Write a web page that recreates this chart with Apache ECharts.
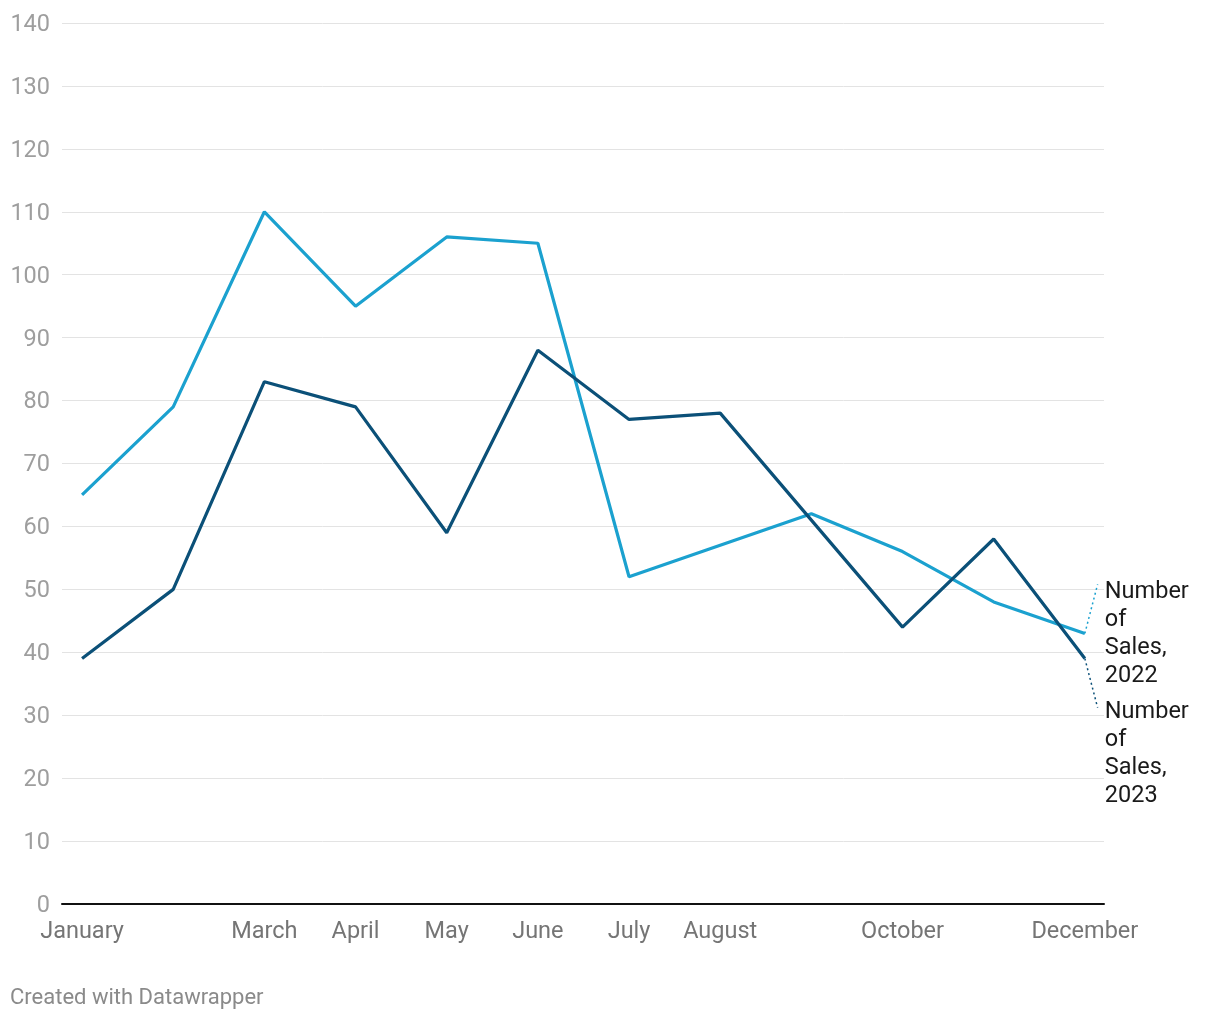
<!DOCTYPE html>
<html>
<head>
<meta charset="utf-8">
<script src="https://cdn.jsdelivr.net/npm/echarts@6/dist/echarts.min.js"></script>
<style>
  html, body { margin: 0; padding: 0; background: #fff; }
  #chart { width: 1220px; height: 1020px; }
</style>
</head>
<body>
<div id="chart"></div>
<script>
const months = ['January','February','March','April','May','June','July','August','September','October','November','December'];
const shownMonths = ['January','March','April','May','June','July','August','October','December'];
const sales2022 = [65, 79, 110, 95, 106, 105, 52, 57, 62, 56, 48, 43];
const sales2023 = [39, 50, 83, 79, 59, 88, 77, 78, 61, 44, 58, 39];
const yTicks = [0, 10, 20, 30, 40, 50, 60, 70, 80, 90, 100, 110, 120, 130, 140];
const label2022 = 'Number\nof\nSales,\n2022';
const label2023 = 'Number\nof\nSales,\n2023';

const LIGHT = '#1ba1cf';
const DARK = '#0b5078';
const FONT = 'Roboto';
const FS = 23.5;

const toPairs = arr => arr.map((v, i) => [i, v]);
const last = months.length - 1;

const chart = echarts.init(document.getElementById('chart'), null, { renderer: 'canvas' });

function connector(endVal, labelVal, color) {
  return {
    silent: true,
    symbol: ['none', 'none'],
    animation: false,
    label: { show: false },
    lineStyle: { type: [2, 3], width: 1.5, color: color },
    data: [[{ coord: [last, endVal] }, { coord: [last + 0.14, labelVal] }]]
  };
}

chart.setOption({
  animation: false,
  backgroundColor: '#ffffff',
  grid: { left: 62, right: 116, top: 23, bottom: 116, containLabel: false },
  xAxis: {
    type: 'value',
    min: -0.22,
    max: 11.21,
    axisLine: { show: true, onZero: false, lineStyle: { color: '#111', width: 2 } },
    axisTick: { show: false },
    splitLine: { show: false },
    axisLabel: {
      customValues: shownMonths.map(m => months.indexOf(m)),
      formatter: v => months[Math.round(v)] || '',
      color: '#757575',
      fontFamily: FONT,
      fontSize: FS,
      margin: 16
    }
  },
  yAxis: {
    type: 'value',
    min: yTicks[0],
    max: yTicks[yTicks.length - 1],
    interval: yTicks[1] - yTicks[0],
    axisLine: { show: false },
    axisTick: { show: false },
    splitLine: { show: true, lineStyle: { color: '#e3e3e3', width: 1 } },
    axisLabel: {
      align: 'right',
      margin: 12,
      formatter: '{v|{value}}',
      rich: {
        v: {
          color: '#9e9e9e',
          fontFamily: FONT,
          fontSize: FS,
          padding: [4, 0, 0, 0]
        }
      }
    }
  },
  series: [
    {
      name: 'Number of Sales, 2022',
      type: 'line',
      data: toPairs(sales2022),
      symbol: 'none',
      lineStyle: { color: LIGHT, width: 3.2 },
      itemStyle: { color: LIGHT },
      z: 3,
      endLabel: {
        show: true,
        formatter: () => label2022,
        distance: 0,
        offset: [20, -55],
        align: 'left',
        verticalAlign: 'top',
        color: '#1a1a1a',
        fontFamily: FONT,
        fontSize: FS,
        lineHeight: 28
      },
      markLine: connector(sales2022[last], 50.8, LIGHT)
    },
    {
      name: 'Number of Sales, 2023',
      type: 'line',
      data: toPairs(sales2023),
      symbol: 'none',
      lineStyle: { color: DARK, width: 3.2 },
      itemStyle: { color: DARK },
      z: 4,
      endLabel: {
        show: true,
        formatter: () => label2023,
        distance: 0,
        offset: [20, 40],
        align: 'left',
        verticalAlign: 'top',
        color: '#1a1a1a',
        fontFamily: FONT,
        fontSize: FS,
        lineHeight: 28
      },
      markLine: connector(sales2023[last], 31.2, DARK)
    }
  ],
  graphic: [
    {
      type: 'text',
      left: 10,
      top: 987,
      style: {
        text: 'Created with Datawrapper',
        fill: '#8a8a8a',
        font: '22px Roboto'
      }
    }
  ]
});
</script>
</body>
</html>
